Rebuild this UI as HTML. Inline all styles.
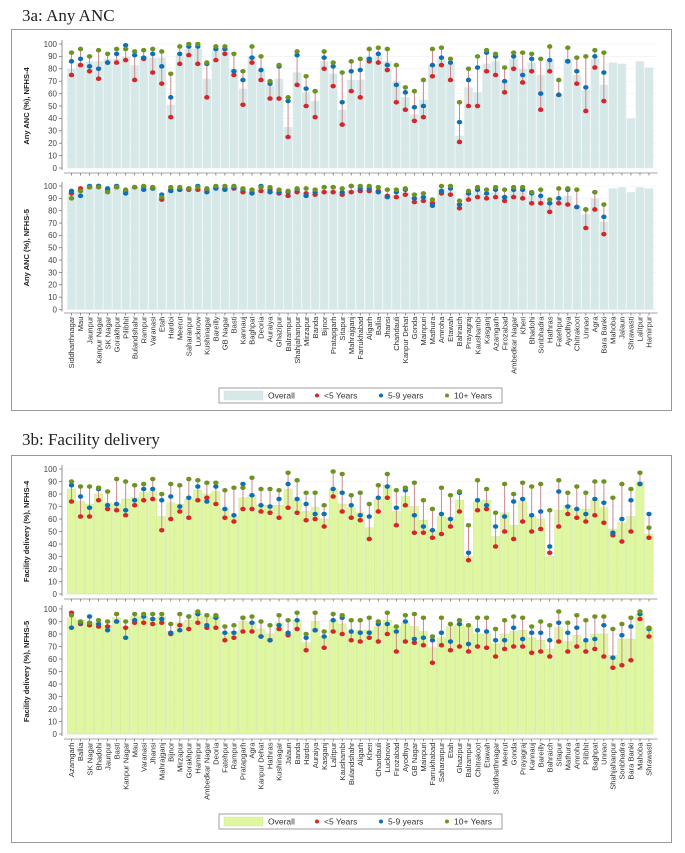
<!DOCTYPE html>
<html><head><meta charset="utf-8">
<style>
html,body{margin:0;padding:0;background:#fff;}
svg{display:block;font-family:"Liberation Sans",sans-serif;}
</style></head>
<body>
<svg id="chart" width="685" height="853" viewBox="0 0 685 853" xmlns="http://www.w3.org/2000/svg">
<text x="22" y="21" font-family="Liberation Serif, serif" font-size="17" fill="#222">3a: Any ANC</text>
<text x="22" y="445" font-family="Liberation Serif, serif" font-size="17" fill="#222">3b: Facility delivery</text>
</svg>
<script>
const ancDistricts = ["Siddharthnagar","Mau","Jaunpur","Kanpur Nagar","SK Nagar","Gorakhpur","Pilibhit","Bulandshahr","Rampur","Varanasi","Etah","Hardoi","Meerut","Saharanpur","Lucknow","Kushinagar","Bareilly","GB Nagar","Basti","Kannauj","Baghpat","Deoria","Auraiya","Ghazipur","Balrampur","Shahjahanpur","Mirzapur","Banda","Bijnor","Pratapgarh","Sitapur","Mahrajganj","Farrukhabad","Aligarh","Ballia","Jhansi","Chandauli","Kanpur Dehat","Gonda","Mainpuri","Mathura","Amroha","Etawah","Bahraich","Prayagraj","Kaushambi","Kasganj","Azamgarh","Firozabad","Ambedkar Nagar","Kheri","Bhadohi","Sonbhadra","Hathras","Fatehpur","Ayodhya","Chitrakoot","Unnao","Agra","Bara Banki","Mahoba","Jalaun","Shrawasti","Lalitpur","Hamirpur"];
const ancN4Overall = [80,85,86,86,88,88,90,83,90,89,89,51,91,96,96,72,95,96,80,64,90,79,67,72,33,77,61,54,86,76,47,71,71,90,91,86,70,57,43,55,83,88,84,26,65,61,84,86,71,88,80,85,75,87,59,88,75,63,88,67,85,84,40,86,81];
const ancN4Under5 = [75,83,78,72,85,85,87,71,88,77,68,41,84,91,84,57,87,92,75,51,85,71,56,56,25,67,50,41,80,66,35,62,57,86,85,79,53,47,38,41,74,83,71,21,50,50,78,75,61,80,69,78,47,78,59,86,68,46,81,54,null,null,null,null,null];
const ancN4Age5to9 = [86,88,82,80,85,92,99,91,89,92,82,57,92,98,98,84,96,96,78,71,89,79,68,82,54,91,64,62,89,82,53,78,79,88,92,83,67,61,49,50,83,89,85,37,71,81,93,90,70,90,75,88,60,87,59,86,78,65,90,77,null,null,null,null,null];
const ancN4Age10plus = [93,96,90,95,92,96,96,94,95,96,94,76,98,100,100,85,98,98,92,78,98,90,70,83,57,94,74,62,94,85,77,86,88,96,97,96,83,65,62,71,96,97,88,53,80,90,95,92,81,93,93,92,88,98,71,97,89,90,95,93,null,null,null,null,null];
const ancN5Overall = [95,97,99,99,97,99,96,99,98,99,91,97,98,98,98,97,99,98,99,96,95,98,96,95,94,96,94,95,97,97,95,97,97,97,96,93,93,95,91,91,88,97,96,86,94,96,94,95,92,96,96,92,91,87,91,92,84,77,90,71,98,99,95,99,98];
const ancN5Under5 = [94,98,99,100,97,99,96,99,99,99,89,97,97,97,97,97,99,98,98,95,95,96,97,94,92,95,94,93,95,95,93,95,96,96,96,92,91,93,87,88,86,94,93,82,89,91,90,91,88,91,90,86,86,79,86,85,83,66,81,61,null,null,null,null,null];
const ancN5Age5to9 = [96,92,100,100,98,100,94,99,97,98,93,96,97,98,100,95,98,97,99,97,94,100,95,95,95,97,92,95,99,99,95,100,98,98,95,91,95,97,90,91,84,96,98,85,94,97,94,97,91,97,97,94,92,86,90,97,83,81,95,75,null,null,null,null,null];
const ancN5Age10plus = [90,96,99,99,95,99,97,99,100,99,91,99,99,98,99,98,100,100,100,98,97,99,99,97,96,98,98,97,99,99,98,100,100,100,99,97,97,98,93,94,89,100,100,88,96,99,97,99,97,99,99,95,97,89,98,98,97,81,95,85,null,null,null,null,null];

const fdDistricts = ["Azamgarh","Ballia","SK Nagar","Bhadohi","Jaunpur","Basti","Kanpur Nagar","Mau","Varanasi","Jhansi","Mahrajganj","Bijnor","Mirzapur","Gorakhpur","Hamirpur","Ambedkar Nagar","Deoria","Fatehpur","Rampur","Pratapgarh","Agra","Kanpur Dehat","Hathras","Kushinagar","Jalaun","Banda","Hardoi","Auraiya","Kasganj","Lalitpur","Kaushambi","Bulandshahr","Aligarh","Kheri","Chandauli","Lucknow","Firozabad","Ayodhya","GB Nagar","Mainpuri","Farrukhabad","Saharanpur","Etah","Ghazipur","Balrampur","Chitrakoot","Etawah","Siddharthnagar","Meerut","Gonda","Prayagraj","Kannauj","Bareilly","Bahraich","Sitapur","Mathura","Amroha","Pilibhit","Baghpat","Unnao","Shahjahanpur","Sonbhadra","Bara Banki","Mahoba","Shrawasti"];
const fdN4Overall = [84,74,72,80,73,72,76,77,81,82,62,73,72,76,83,80,82,68,62,77,79,71,71,71,84,75,66,69,60,84,72,69,65,53,76,87,66,78,70,59,51,62,61,75,30,74,75,46,65,55,74,62,60,30,67,71,68,68,75,69,52,57,62,90,48];
const fdN4Under5 = [74,62,62,75,68,67,63,71,75,76,51,60,66,61,75,77,72,61,58,68,68,66,65,61,69,65,59,60,54,78,66,61,59,44,66,77,55,71,49,49,45,48,54,66,27,67,68,38,50,44,58,50,52,33,54,64,61,58,63,57,47,42,50,88,45];
const fdN4Age5to9 = [87,78,69,84,71,72,67,75,84,84,75,78,70,77,86,74,86,68,63,88,79,71,70,76,88,76,72,64,64,84,81,71,63,62,77,86,69,83,63,54,51,64,60,81,33,75,71,54,62,74,76,63,66,38,82,70,68,64,76,73,49,60,75,88,64];
const fdN4Age10plus = [90,86,86,85,82,92,90,87,88,92,80,88,87,92,91,89,89,83,85,85,93,84,84,83,97,91,81,81,71,98,96,79,81,72,87,96,83,85,89,75,68,85,79,82,55,91,84,65,88,80,89,86,88,67,91,81,86,81,90,90,77,88,84,97,53];
const fdN5Overall = [93,91,89,89,87,93,86,94,94,93,94,82,89,91,97,94,94,81,82,90,89,84,80,89,81,91,73,90,78,91,88,81,83,83,86,91,86,89,86,82,69,77,86,88,86,80,80,72,80,82,83,77,75,68,85,74,79,74,80,80,63,76,76,96,85];
const fdN5Under5 = [97,88,87,86,86,90,85,89,89,88,89,80,87,84,89,85,85,75,77,82,82,78,75,84,79,84,67,83,69,82,80,75,74,77,74,80,66,74,73,71,57,71,67,70,66,70,69,62,68,70,70,65,66,62,74,66,70,66,68,62,53,55,59,92,78];
const fdN5Age5to9 = [85,89,94,88,83,90,77,91,94,92,92,81,83,94,96,87,93,81,81,93,89,78,75,87,81,91,77,83,78,91,93,82,81,81,88,88,82,90,76,77,75,81,74,88,72,83,82,75,75,85,76,81,81,75,89,81,85,75,76,87,61,79,86,96,84];
const fdN5Age10plus = [95,90,89,91,90,96,90,96,96,96,96,88,96,94,98,95,95,86,87,93,94,90,87,95,91,97,80,97,82,96,95,91,91,93,90,97,86,95,96,93,78,93,88,91,87,93,93,84,91,94,93,86,90,87,98,89,95,91,94,94,84,88,93,98,85];

const yTicks = [0,10,20,30,40,50,60,70,80,90,100];
const legendLabels = ["Overall","<5 Years","5-9 years","10+ Years"];

const NS = "http://www.w3.org/2000/svg";
const svg = document.getElementById("chart");
const RED = "#d4262b", BLUE = "#0c70b5", GREEN = "#6e9321", LINE = "#c98a8f";
const X0 = 67, X1 = 653.5;

function mk(tag, attrs, parent) {
  const e = document.createElementNS(NS, tag);
  for (const k in attrs) e.setAttribute(k, attrs[k]);
  (parent || svg).appendChild(e);
  return e;
}

function drawSubplot(cfg) {
  const n = cfg.cats.length;
  const slot = (X1 - X0) / n;
  const xAt = i => X0 + slot * (i + 0.5);
  const yAt = v => cfg.y0 - (cfg.y0 - cfg.y100) * v / 100;
  const g = mk("g", {});
  
  
  yTicks.forEach(t => {
    const gl = mk("line", {x1: X0 - 2, x2: X1 + 3, y1: yAt(t), y2: yAt(t), stroke: "#eef2f2", "stroke-width": 0.6}, g);
    
    
    const tk = mk("line", {x1: 59, x2: 62, y1: yAt(t), y2: yAt(t), stroke: "#666", "stroke-width": 0.7}, g);
    
    
    const tl = mk("text", {x: 57, y: yAt(t) + 2.8, "text-anchor": "end", "font-size": 8, fill: "#444"}, g);
    tl.textContent = t;
    
    
  });
  const ax = mk("line", {x1: 62, x2: 62, y1: cfg.y100 - 4, y2: cfg.y0 + 2, stroke: "#777", "stroke-width": 0.8}, g);
  
  
  const yt = mk("text", {x: 0, y: 0, "text-anchor": "middle", "font-size": 7.5, "font-weight": "bold", fill: "#222",
    transform: `translate(29,${(cfg.y0 + cfg.y100) / 2}) rotate(-90)`}, g);
  yt.textContent = cfg.yTitle;
  
  
  // bars
  cfg.overall.forEach((v, i) => {
    const b = mk("rect", {x: X0 + slot * i + 0.4, y: yAt(v), width: slot - 0.8, height: cfg.y0 - yAt(v), fill: cfg.barColor, stroke: cfg.barEdge, "stroke-width": 0.4}, g);
    
    
  });
  // x axis
  const xa = mk("line", {x1: 64, x2: X1 + 4, y1: cfg.xAxisY, y2: cfg.xAxisY, stroke: "#888", "stroke-width": 0.8}, g);
  
  
  cfg.cats.forEach((c, i) => {
    const tk = mk("line", {x1: xAt(i), x2: xAt(i), y1: cfg.xAxisY, y2: cfg.xAxisY + 2.5, stroke: "#666", "stroke-width": 0.7}, g);
    
    
    if (cfg.showLabels) {
      const t = mk("text", {x: 0, y: 0, "text-anchor": "end", "font-size": 7.6, fill: "#333",
        transform: `translate(${xAt(i) + 2.7},${cfg.xAxisY + 3.5}) rotate(-90)`}, g);
      t.textContent = c;
      
      
    }
  });
  // range lines + dots
  cfg.under5.forEach((v, i) => {
    const vals = [v, cfg.age5to9[i], cfg.age10plus[i]].filter(x => x !== null && x !== undefined);
    if (vals.length < 2) return;
    const l = mk("line", {x1: xAt(i), x2: xAt(i), y1: yAt(Math.min(...vals)), y2: yAt(Math.max(...vals)), stroke: LINE, "stroke-width": 1}, g);
    
    
  });
  [[cfg.under5, RED, 'dot-under-5'], [cfg.age5to9, BLUE, 'dot-5-9-years'], [cfg.age10plus, GREEN, 'dot-10-plus-years']].forEach(([arr, col, nm]) => {
    arr.forEach((v, i) => {
      if (v === null || v === undefined) return;
      const d = mk("ellipse", {cx: xAt(i), cy: yAt(v), rx: 2.7, ry: 2.3, fill: col}, g);
      
      
    });
  });
}

function drawLegend(y, barColor, edge) {
  const g = mk("g", {});
  
  
  const box = mk("rect", {x: 219, y: y, width: 283, height: 15, fill: "#fff", stroke: "#888", "stroke-width": 0.8}, g);
  
  
  const sw = mk("rect", {x: 224, y: y + 3, width: 39, height: 9, fill: barColor, stroke: edge, "stroke-width": 0.4}, g);
  
  
  const items = [[268, null], [324, RED], [388, BLUE], [454, GREEN]];
  items.forEach(([x, col], k) => {
    if (col) {
      const d = mk("circle", {cx: x - 7, cy: y + 7.5, r: 2, fill: col}, g);
      
      
    }
    const t = mk("text", {x: x, y: y + 10.5, "font-size": 8.5, fill: "#333"}, g);
    t.textContent = legendLabels[k];
    
    
  });
}

// panel boxes
const boxA = mk("rect", {x: 11.5, y: 29.5, width: 660, height: 381, fill: "none", stroke: "#999", "stroke-width": 1});


const boxB = mk("rect", {x: 11.5, y: 455.5, width: 660, height: 387, fill: "none", stroke: "#999", "stroke-width": 1});



const ANCBAR = "#d7e8e8", ANCEDGE = "#e6f0f0";
const FDBAR = "#def7a0", FDEDGE = "#c9e290";

drawSubplot({name: 'anc-nfhs4-subplot', cats: ancDistricts, y100: 44, y0: 168, xAxisY: 173, showLabels: false,
  yTitle: "Any ANC (%), NFHS-4", barColor: ANCBAR, barEdge: ANCEDGE,
  overall: ancN4Overall, under5: ancN4Under5, age5to9: ancN4Age5to9, age10plus: ancN4Age10plus});
drawSubplot({name: 'anc-nfhs5-subplot', cats: ancDistricts, y100: 186, y0: 309.5, xAxisY: 313, showLabels: true,
  yTitle: "Any ANC (%), NFHS-5", barColor: ANCBAR, barEdge: ANCEDGE,
  overall: ancN5Overall, under5: ancN5Under5, age5to9: ancN5Age5to9, age10plus: ancN5Age10plus});
drawLegend(388, ANCBAR, "#c8dede");

drawSubplot({name: 'fd-nfhs4-subplot', cats: fdDistricts, y100: 469, y0: 594, xAxisY: 599, showLabels: false,
  yTitle: "Facility delivery (%), NFHS-4", barColor: FDBAR, barEdge: FDEDGE,
  overall: fdN4Overall, under5: fdN4Under5, age5to9: fdN4Age5to9, age10plus: fdN4Age10plus});
drawSubplot({name: 'fd-nfhs5-subplot', cats: fdDistricts, y100: 609, y0: 734, xAxisY: 739, showLabels: true,
  yTitle: "Facility delivery (%), NFHS-5", barColor: FDBAR, barEdge: FDEDGE,
  overall: fdN5Overall, under5: fdN5Under5, age5to9: fdN5Age5to9, age10plus: fdN5Age10plus});
drawLegend(814, FDBAR, FDEDGE);
</script>
</body></html>
